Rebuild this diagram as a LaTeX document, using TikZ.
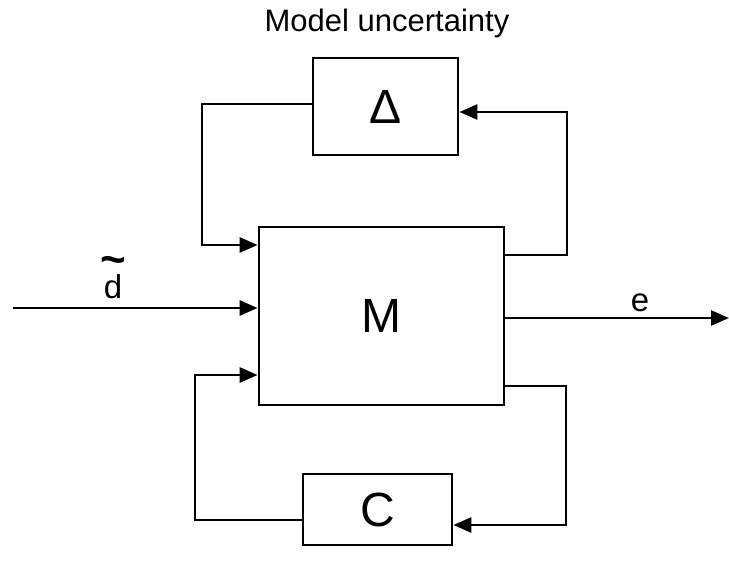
\documentclass[tikz,border=0pt]{standalone}
\usepackage{fontspec}
\setmainfont{Liberation Sans}
\usetikzlibrary{arrows.meta,calc}
\begin{document}
\begin{tikzpicture}[x=0.5pt,y=-0.5pt,
  blk/.style={draw,line width=1.4pt,inner sep=0pt,font=\fontsize{24}{28}\selectfont},
  wire/.style={line width=1.4pt},
  arr/.style={wire,-{Triangle[length=9pt,width=7.5pt]}},
  lbl/.style={font=\fontsize{16.5}{19}\selectfont,inner sep=0pt}]
\useasboundingbox (0,0) rectangle (729,577);
\node[font=\fontsize{15.5}{18}\selectfont] (title) at (387,23) {Model uncertainty};
\node[blk,minimum width=72.5pt,minimum height=48.5pt] (D) at (385.5,106.5) {Δ};
\node[blk,minimum width=122.5pt,minimum height=89pt] (M) at (381.5,316) {M};
\node[blk,minimum width=74.5pt,minimum height=35.5pt] (C) at (377.5,509.5) {C};
\coordinate (din) at (13,308);
\coordinate (eout) at (729,318);
% top loop
\draw[arr] (M.east |- 0,255) -| (567,112) -- (D.east |- 0,112);
\draw[arr] (D.west |- 0,104) -| (202,245) -- (M.west |- 0,245);
% input / output
\draw[arr] (din) -- (M.west |- din);
\draw[arr] (M.east |- eout) -- (eout);
% bottom loop
\draw[arr] (M.east |- 0,386) -| (566,525) -- (C.east |- 0,525);
\draw[arr] (C.west |- 0,520) -| (195,375) -- (M.west |- 0,375);
\node[lbl,anchor=base] (dl) at (113,299) {\ooalign{d\cr\hidewidth\raisebox{12pt}{\fontsize{22}{22}\selectfont\bfseries\textasciitilde}\hidewidth\cr}};
\node[lbl] (el) at (640,303) {e};
\end{tikzpicture}
\end{document}
